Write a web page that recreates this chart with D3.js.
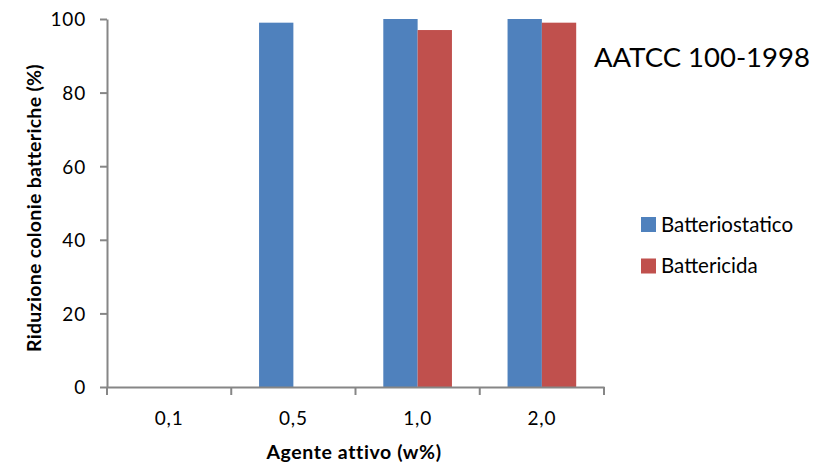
<!DOCTYPE html>
<html>
<head>
<meta charset="utf-8">
<script src="https://cdn.jsdelivr.net/npm/d3@7"></script>
<style>
  body { margin: 0; background: #fff; }
  text { font-family: Lato, "Open Sans", sans-serif; fill: #000; }
  .axis path, .axis line { stroke: #868686; stroke-width: 2; }
  .axis text { font-size: 19px; letter-spacing: 0.8px; }
</style>
</head>
<body>
<div id="chart-area"></div>
<script>
const categories = ["0,1", "0,5", "1,0", "2,0"];
const seriesNames = ["Batteriostatico", "Battericida"];
const batteriostatico = [0, 99, 100, 100];
const battericida = [0, 0, 97, 99];
const yTicks = [0, 20, 40, 60, 80, 100];
const colors = ["#4F81BD", "#C0504D"];

const svgWidth = 823, svgHeight = 466;
const margin = { left: 107, right: 219, top: 19, bottom: 79 };
const width = svgWidth - margin.left - margin.right;
const height = svgHeight - margin.top - margin.bottom;

const data = categories.map((c, i) => ({
  cat: c,
  values: [batteriostatico[i], battericida[i]]
}));

const svg = d3.select("#chart-area")
              .append("svg")
              .attr("width", svgWidth)
              .attr("height", svgHeight);
const g = svg.append("g")
             .attr("transform", `translate(${margin.left},${margin.top})`);

const x = d3.scaleBand()
            .domain(categories)
            .range([0, width])
            .paddingInner(0)
            .paddingOuter(0);

const x1 = d3.scaleBand()
             .domain([0, 1])
             .range([0, x.bandwidth()])
             .paddingOuter(0.81)
             .paddingInner(0);

const y = d3.scaleLinear()
            .domain([0, 100])
            .range([height, 0]);

// bars
const groups = g.selectAll(".cat")
                .data(data)
                .enter()
                .append("g")
                .attr("transform", d => `translate(${x(d.cat)},0)`);
groups.selectAll("rect")
      .data(d => d.values.map((v, k) => ({ v, k })))
      .enter()
      .append("rect")
        .attr("x", d => x1(d.k))
        .attr("width", x1.bandwidth())
        .attr("y", d => y(d.v))
        .attr("height", d => height - y(d.v))
        .attr("fill", d => colors[d.k]);

// y axis
const yAxis = g.append("g")
               .attr("class", "axis")
               .call(d3.axisLeft(y).tickValues(yTicks).tickSize(7).tickPadding(14).tickSizeOuter(0));
yAxis.selectAll("text").attr("dy", "0.36em");

// x axis: ticks at band boundaries
const xAxis = g.append("g")
               .attr("class", "axis")
               .attr("transform", `translate(0,${height})`)
               .call(d3.axisBottom(x).tickSize(0).tickPadding(25).tickSizeOuter(0));
xAxis.selectAll(".sep")
     .data(categories.concat(["end"]))
     .enter()
     .append("line")
       .attr("x1", (d, i) => i < categories.length ? x(d) : width)
       .attr("x2", (d, i) => i < categories.length ? x(d) : width)
       .attr("y1", 0)
       .attr("y2", 8);

// axis titles
svg.append("text")
   .attr("x", 354)
   .attr("y", 459)
   .attr("text-anchor", "middle")
   .style("font-size", "19.5px")
   .style("font-weight", "bold")
   .style("letter-spacing", "0.6px")
   .text("Agente attivo (w%)");

svg.append("text")
   .attr("transform", "rotate(-90)")
   .attr("x", -208)
   .attr("y", 41)
   .attr("text-anchor", "middle")
   .style("font-size", "19.5px")
   .style("font-weight", "bold")
   .style("letter-spacing", "0.3px")
   .text("Riduzione colonie batteriche (%)");

// title
svg.append("text")
   .attr("x", 594)
   .attr("y", 67)
   .style("font-size", "27.5px")
   .text("AATCC 100-1998");

// legend
const legend = svg.append("g")
                  .attr("transform", "translate(641,217)");
seriesNames.forEach((s, i) => {
  legend.append("rect")
        .attr("x", 0)
        .attr("y", i * 41.5)
        .attr("width", 15)
        .attr("height", 15)
        .attr("fill", colors[i]);
  legend.append("text")
        .attr("x", 20)
        .attr("y", i * 41.5 + 14.5)
        .style("font-size", "20.5px")
        .text(s);
});
</script>
</body>
</html>
